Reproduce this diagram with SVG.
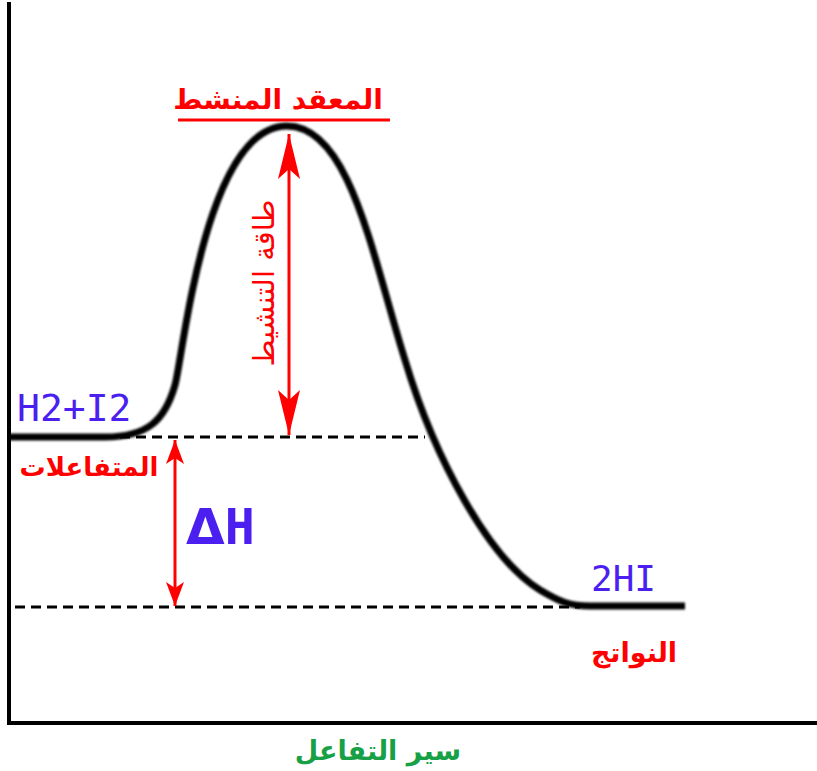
<svg xmlns="http://www.w3.org/2000/svg" width="817" height="771" viewBox="0 0 817 771">
<defs>
<style>
.ar{font-family:"DejaVu Sans","Noto Sans",sans-serif;font-weight:bold;}
.red{fill:#ff0000;}
.blue{fill:#4b1ff0;font-family:"DejaVu Sans Mono","Liberation Mono",monospace;}
.dash{stroke:#000;stroke-width:3;stroke-dasharray:10,6;fill:none;}
.rl{stroke:#ff0000;stroke-width:3;fill:none;}
</style>
<filter id="blur" x="-5%" y="-5%" width="110%" height="110%"><feGaussianBlur stdDeviation="1.2"/></filter>
<marker id="ahL" viewBox="0 0 45 22" refX="45" refY="11" markerWidth="45" markerHeight="22" markerUnits="userSpaceOnUse" orient="auto-start-reverse">
<path d="M0,0 L45,11 L0,22 L10,11 Z" fill="#ff0000"/>
</marker>
<marker id="ahS" viewBox="0 0 24 18" refX="24" refY="9" markerWidth="24" markerHeight="18" markerUnits="userSpaceOnUse" orient="auto-start-reverse">
<path d="M0,0 L24,9 L0,18 L6,9 Z" fill="#ff0000"/>
</marker>
</defs>
<rect width="817" height="771" fill="#fff"/>
<g id="axes" stroke="#000" stroke-width="4" fill="none">
<line x1="9" y1="2" x2="9" y2="724"/>
<line x1="7" y1="723" x2="817" y2="723"/>
</g>
<g id="connectors">
<line class="dash" x1="120" y1="437" x2="425" y2="437"/>
<line class="dash" x1="15" y1="607" x2="580" y2="607"/>
<path id="curve" d="M9,437 L105,437 C148,437 165,420 175,385 C183,357 205,126 287,126 C350,126 372,255 405,360 C435,460 490,560 540,590 C560,602 570,606 590,606 L685,606" stroke="#000" stroke-width="7" fill="none" filter="url(#blur)"/>
<line class="rl" x1="178" y1="120" x2="390" y2="120"/>
<line class="rl" x1="289" y1="134" x2="289" y2="435" marker-start="url(#ahL)" marker-end="url(#ahL)"/>
<line class="rl" x1="175" y1="440" x2="175" y2="606" marker-start="url(#ahS)" marker-end="url(#ahS)"/>
</g>
<g id="activated-complex"><text class="ar red" x="278" y="109" font-size="28" text-anchor="middle" direction="rtl">المعقد المنشط</text></g>
<g id="activation-energy"><text class="red" transform="translate(274,283) rotate(-90)" font-family="DejaVu Sans,sans-serif" font-size="29" text-anchor="middle" direction="rtl">طاقة التنشيط</text></g>
<g id="reactants">
<text class="blue" x="17" y="421" font-size="38">H2+I2</text>
<text class="ar red" x="89" y="476" font-size="26" text-anchor="middle" direction="rtl">المتفاعلات</text>
</g>
<g id="delta-h"><text x="186" y="544" font-size="50" font-weight="bold" fill="#4b1ff0" font-family="DejaVu Sans,sans-serif"><tspan>Δ</tspan><tspan font-family="DejaVu Sans Mono,monospace">H</tspan></text></g>
<g id="products">
<text class="blue" x="591" y="591" font-size="36">2HI</text>
<text class="ar red" x="634" y="662" font-size="27" text-anchor="middle" direction="rtl">النواتج</text>
</g>
<g id="x-axis-label"><text class="ar" x="378" y="760" font-size="27" fill="#17a046" text-anchor="middle" direction="rtl">سير التفاعل</text></g>
</svg>
